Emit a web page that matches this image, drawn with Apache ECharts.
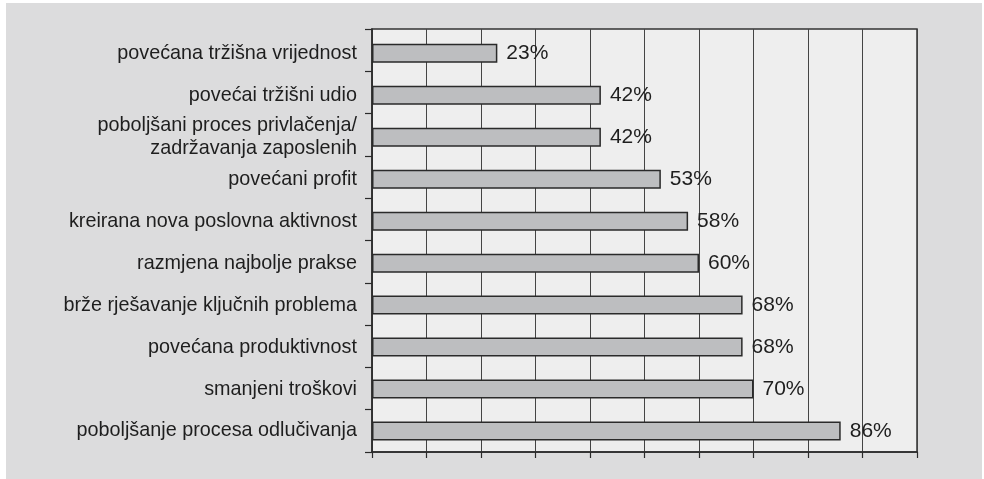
<!DOCTYPE html>
<html>
<head>
<meta charset="utf-8">
<script src="https://cdn.jsdelivr.net/npm/echarts@6/dist/echarts.min.js"></script>
<style>
html,body{margin:0;padding:0;background:#ffffff;}
#bg{position:absolute;left:6px;top:3px;width:976px;height:476px;background:#dcdcdd;}
#c{position:absolute;left:0;top:0;width:984px;height:479px;}
</style>
</head>
<body>
<div id="bg"></div>
<div id="c"></div>
<script>
const categories = [
  'povećana tržišna vrijednost',
  'povećai tržišni udio',
  'poboljšani proces privlačenja/\nzadržavanja zaposlenih',
  'povećani profit',
  'kreirana nova poslovna aktivnost',
  'razmjena najbolje prakse',
  'brže rješavanje ključnih problema',
  'povećana produktivnost',
  'smanjeni troškovi',
  'poboljšanje procesa odlučivanja'
];
const values = [23, 42, 42, 53, 58, 60, 68, 68, 70, 86];
const xMin = 0, xMax = 100, xStep = 10;

const FONT = 'Liberation Sans, Arial, Helvetica, sans-serif';
const labelCats = categories.map(c => c.indexOf('\n') >= 0
  ? {value: c, textStyle: {padding: [0, 0, 8, 0]}} : c);

const chart = echarts.init(document.getElementById('c'), null, {renderer:'canvas'});
chart.setOption({
  backgroundColor: 'transparent',
  animation: false,
  grid: [
    {left: 372, right: 67, top: 29, bottom: 27,
     show: true, backgroundColor: '#eeeeee', borderColor: '#333333', borderWidth: 1.5},
    {left: 372, right: 67, top: 32.3, bottom: 27}
  ],
  xAxis: [{
    gridIndex: 0, type: 'value', min: xMin, max: xMax, interval: xStep,
    axisLine: {show: true, lineStyle: {color: '#2a2a2a', width: 1.5}},
    axisTick: {show: true, length: 6, lineStyle: {color: '#2a2a2a', width: 1.2}},
    axisLabel: {show: false},
    splitLine: {show: true, lineStyle: {color: '#444444', width: 1}}
  }, {
    gridIndex: 1, type: 'value', min: xMin, max: xMax, interval: xStep, show: false
  }],
  yAxis: [{
    gridIndex: 0, type: 'category', data: categories, inverse: true,
    axisLine: {show: true, lineStyle: {color: '#2a2a2a', width: 1.5}},
    axisTick: {show: true, length: 7, lineStyle: {color: '#2a2a2a', width: 1.2}},
    axisLabel: {show: false}
  }, {
    gridIndex: 1, type: 'category', data: labelCats, inverse: true,
    axisLine: {show: false}, axisTick: {show: false},
    axisLabel: {
      margin: 15, color: '#1e1e1e', fontSize: 19.8, lineHeight: 23,
      fontFamily: FONT, align: 'right'
    }
  }],
  series: [{
    type: 'bar', xAxisIndex: 1, yAxisIndex: 1, data: values, barWidth: 19,
    itemStyle: {color: '#bdbec0', borderColor: '#2a2a2a', borderWidth: 1.5},
    label: {
      show: true, position: 'right', distance: 9, formatter: '{c}%',
      color: '#1e1e1e', fontSize: 21, fontFamily: FONT
    }
  }]
});
</script>
</body>
</html>
